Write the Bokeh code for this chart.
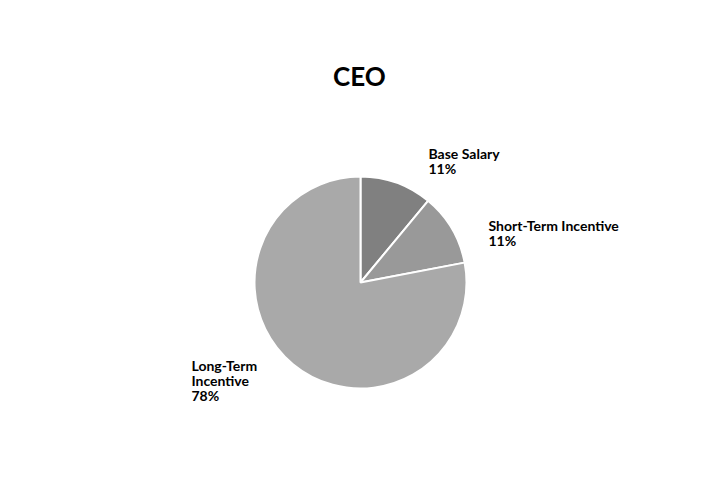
import math
from bokeh.plotting import figure
from bokeh.models import Range1d, Label
from bokeh.embed import file_html
from bokeh.resources import INLINE
from bokeh.core.properties import value

# ---- data ----
chart_title = "CEO"
categories = ["Base Salary", "Short-Term Incentive", "Long-Term Incentive"]
label_lines = [["Base Salary"], ["Short-Term Incentive"], ["Long-Term", "Incentive"]]
values = [11, 11, 78]
colors = ["#808080", "#999999", "#a9a9a9"]

# ---- layout ----
W, H = 702, 484
FONT = "Lato"
p = figure(width=W, height=H, output_backend="svg", toolbar_location=None,
           x_range=Range1d(0, W), y_range=Range1d(0, H), min_border=0)
p.axis.visible = False
p.grid.visible = False
p.outline_line_color = None

cx, cy, r = 360, 202, 106
# label anchor (x, y of first line centre) per slice, in pixels
label_pos = [(428, 331), (488, 259), (191, 119)]
line_h = 15

total = float(sum(values))
start = math.pi / 2
for v, c, lines, (lx, ly) in zip(values, colors, label_lines, label_pos):
    end = start - v / total * 2 * math.pi
    p.wedge(x=cx, y=cy, radius=r, start_angle=end, end_angle=start,
            fill_color=c, line_color="white", line_width=2)
    start = end
    texts = lines + [f"{round(v / total * 100)}%"]
    ys = [ly - i * line_h for i in range(len(texts))]
    p.text(x=[lx] * len(texts), y=ys, text=texts, text_font=value(FONT),
           text_font_size="14px", text_font_style="bold", text_color="#000000",
           text_align="left", text_baseline="middle")

p.add_layout(Label(x=359, y=409, text=chart_title, text_font=FONT,
                   text_font_size="26px", text_font_style="bold",
                   text_align="center", text_baseline="middle", text_color="#000000"))

open("out.html", "w").write(file_html(p, INLINE))
